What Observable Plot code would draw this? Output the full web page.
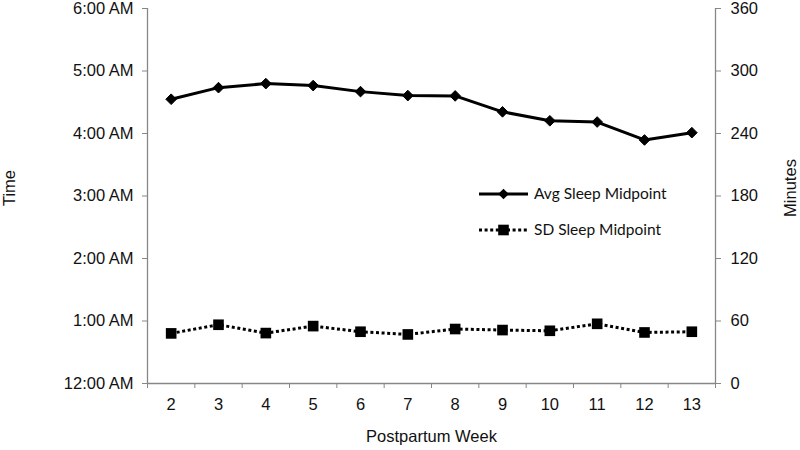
<!DOCTYPE html>
<html>
<head>
<meta charset="utf-8">
<script src="https://cdn.jsdelivr.net/npm/d3@7"></script>
<script src="https://cdn.jsdelivr.net/npm/@observablehq/plot@0.6"></script>
<style>
  html, body { margin: 0; padding: 0; background: #fff; }
  #chart { width: 800px; height: 450px; }
</style>
</head>
<body>
<div id="chart"></div>
<script>
// Data
const weeks = [2, 3, 4, 5, 6, 7, 8, 9, 10, 11, 12, 13];
// Average sleep midpoint, minutes after midnight (left axis, time)
const avgMidpoint = [272.9, 284.0, 287.9, 286.0, 280.2, 276.4, 276.1, 260.8, 252.2, 251.0, 233.8, 240.8];
// SD of sleep midpoint, minutes (right axis)
const sdMidpoint = [48.1, 56.4, 48.4, 55.1, 49.7, 47.1, 52.3, 51.3, 50.6, 57.3, 49.0, 49.7];
const yTicks = [0, 60, 120, 180, 240, 300, 360];
const timeLabels = ["12:00 AM", "1:00 AM", "2:00 AM", "3:00 AM", "4:00 AM", "5:00 AM", "6:00 AM"];
const seriesNames = ["Avg Sleep Midpoint", "SD Sleep Midpoint"];
const axisTitles = {x: "Postpartum Week", yLeft: "Time", yRight: "Minutes"};

const avgData = weeks.map((w, i) => ({week: w, value: avgMidpoint[i]}));
const sdData = weeks.map((w, i) => ({week: w, value: sdMidpoint[i]}));
const bandEdges = d3.range(weeks[0] - 0.5, weeks[weeks.length - 1] + 1, 1);

const axisColor = "#878787";
const font = "Liberation Sans, Arial, sans-serif";
const dotted = "3 2.6";

const chart = Plot.plot({
  width: 800,
  height: 450,
  marginLeft: 147,
  marginRight: 85,
  marginTop: 8,
  marginBottom: 67,
  style: {fontFamily: font, fontSize: "16.5px", color: "#111", background: "#fff"},
  x: {domain: [bandEdges[0], bandEdges[bandEdges.length - 1]]},
  y: {domain: [0, 360]},
  marks: [
    Plot.ruleX([bandEdges[0], bandEdges[bandEdges.length - 1]], {stroke: axisColor, strokeWidth: 1.3}),
    Plot.ruleY([0], {stroke: axisColor, strokeWidth: 1.3}),
    Plot.axisY({
      anchor: "left", ticks: yTicks, tickSize: 5, tickPadding: 9,
      tickFormat: (d) => timeLabels[yTicks.indexOf(d)],
      stroke: axisColor, fill: "#111", label: null
    }),
    Plot.axisY({
      anchor: "right", ticks: yTicks, tickSize: 5, tickPadding: 10,
      tickFormat: (d) => String(d),
      stroke: axisColor, fill: "#111", label: null
    }),
    Plot.axisX({
      anchor: "bottom", ticks: weeks, tickSize: 0, tickPadding: 15,
      tickFormat: (d) => String(d), fill: "#111",
      label: axisTitles.x, labelAnchor: "center", labelArrow: "none", labelOffset: 58
    }),
    Plot.axisX({
      anchor: "bottom", ticks: bandEdges, tickSize: 5, tickFormat: () => "",
      stroke: axisColor, label: null
    }),
    Plot.line(avgData, {x: "week", y: "value", stroke: "#000", strokeWidth: 3}),
    Plot.dot(avgData, {x: "week", y: "value", symbol: "diamond2", r: 4.8, fill: "#000", stroke: "#000", strokeWidth: 1}),
    Plot.line(sdData, {x: "week", y: "value", stroke: "#000", strokeWidth: 3, strokeDasharray: dotted, strokeLinecap: "butt"}),
    Plot.dot(sdData, {x: "week", y: "value", symbol: "square", r: 6, fill: "#000", stroke: "none"})
  ]
});

document.getElementById("chart").appendChild(chart);

const svg = d3.select(chart);

// Vertical axis titles (both read bottom-to-top)
svg.append("text").attr("transform", "translate(15,188) rotate(-90)")
  .attr("text-anchor", "middle").attr("fill", "#111").attr("font-size", "16.5px").text(axisTitles.yLeft);
svg.append("text").attr("transform", "translate(796,188) rotate(-90)")
  .attr("text-anchor", "middle").attr("fill", "#111").attr("font-size", "16.5px").text(axisTitles.yRight);

// Legend inside the plot area
const lg = svg.append("g").attr("font-family", "Lato, 'Open Sans', sans-serif").attr("font-size", "15.5px");
const legendRows = [
  {name: seriesNames[0], y: 194, dash: null, symbol: d3.symbolDiamond2, size: 72},
  {name: seriesNames[1], y: 230, dash: dotted, symbol: d3.symbolSquare, size: 113}
];
legendRows.forEach((r) => {
  lg.append("line").attr("x1", 479).attr("x2", 528).attr("y1", r.y).attr("y2", r.y)
    .attr("stroke", "#000").attr("stroke-width", 3).attr("stroke-dasharray", r.dash);
  lg.append("path").attr("d", d3.symbol(r.symbol, r.size)()).attr("transform", `translate(503.5,${r.y})`).attr("fill", "#000");
  lg.append("text").attr("x", 534).attr("y", r.y).attr("dy", "0.35em")
    .attr("text-anchor", "start").attr("fill", "#111").text(r.name);
});
</script>
</body>
</html>
